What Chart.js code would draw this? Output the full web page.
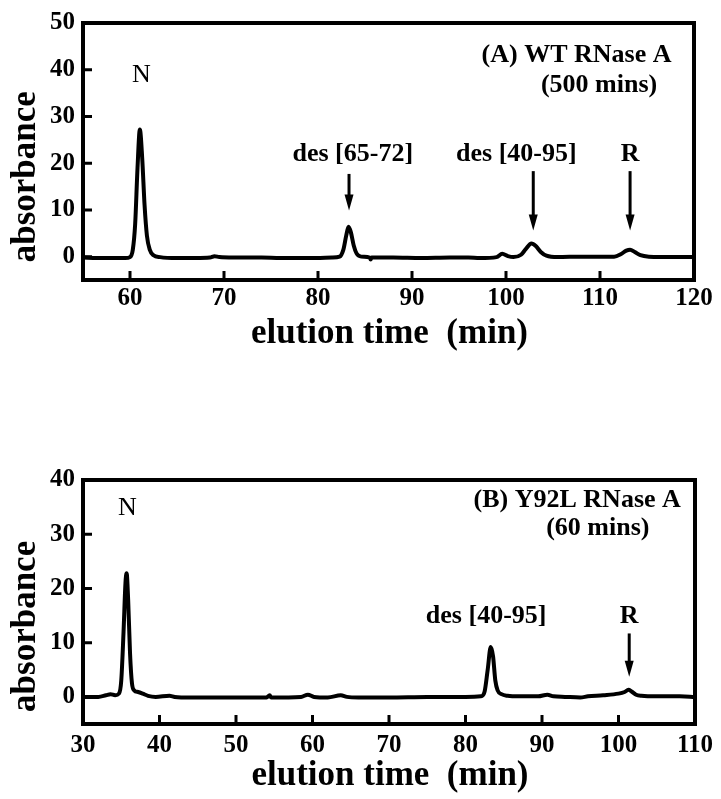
<!DOCTYPE html>
<html>
<head>
<meta charset="utf-8">
<script src="https://cdn.jsdelivr.net/npm/chart.js@4/dist/chart.umd.min.js"></script>
<style>
  body { margin: 0; background: #fff; }
  #wrapA { position: absolute; left: 0; top: 0; width: 721px; height: 400px; }
  #wrapB { position: absolute; left: 0; top: 400px; width: 721px; height: 399px; }
</style>
</head>
<body>
<div id="wrapA"><canvas id="chartA" width="721" height="400"></canvas></div>
<div id="wrapB"><canvas id="chartB" width="721" height="399"></canvas></div>
<script>
// (A) WT RNase A, 500 mins -- elution time (min) vs absorbance
const timeA = [55, 56.5, 58, 59.5, 60, 60.3, 60.55, 60.8, 61.05, 61.3, 61.55, 61.8, 62.1, 62.5, 63.2,
  65, 67, 68.5, 69, 69.5, 71, 74, 76, 79, 81.5, 82.3, 82.7, 83, 83.25, 83.5, 83.8, 84.1, 84.6,
  85.5, 85.6, 85.7, 88, 91, 94, 96, 97.2, 99, 99.6, 100.2, 100.8, 101.6, 102.1, 102.7, 103.2,
  103.7, 104.3, 105.5, 108, 110, 111.5, 112.2, 112.8, 113.2, 113.7, 114.3, 115.2, 118, 120];
const absA = [-0.2, -0.3, -0.3, -0.3, -0.1, 1.5, 7, 19, 27.2, 21, 11, 4.5, 1.5, 0.3, -0.1,
  -0.3, -0.3, -0.2, 0.1, -0.1, -0.2, -0.2, -0.3, -0.3, -0.2, 0, 1.5, 4.5, 6.4, 5.2, 2.4, 0.7, 0,
  -0.2, -0.6, -0.2, -0.2, -0.3, -0.2, -0.2, -0.3, -0.1, 0.6, 0.1, -0.1, 0.4, 1.6, 2.8, 2.2,
  1.0, 0.2, -0.1, 0, 0, 0, 0.5, 1.3, 1.5, 1.0, 0.3, 0, -0.1, -0.1];

// (B) Y92L RNase A, 60 mins
const timeB = [30, 32, 33, 33.6, 34.2, 34.7, 35, 35.3, 35.55, 35.7, 35.9, 36.15, 36.4, 36.7, 37.2,
  37.8, 38.5, 39.5, 41.3, 42, 44, 45, 50, 54, 54.4, 54.6, 58.5, 59.4, 60.2, 62, 63.7, 64.5, 66,
  70, 75, 80, 82, 82.5, 82.9, 83.3, 83.6, 83.9, 84.2, 84.7, 85.5, 87, 89.5, 90.7, 91.5, 93, 95,
  96, 98, 100, 100.8, 101.3, 101.7, 102.3, 103, 105, 108, 110];
const absB = [0, 0, 0.3, 0.5, 0.3, 0.6, 3, 12, 21, 22.8, 18, 8, 2.5, 1.2, 0.9,
  0.6, 0.2, 0, 0.2, 0, -0.1, -0.1, -0.1, -0.1, 0.3, -0.1, 0, 0.4, 0, -0.1, 0.3, 0, -0.1,
  -0.1, 0, 0, 0.1, 1.0, 5.0, 9.2, 7.5, 3.0, 1.2, 0.5, 0.2, 0.1, 0.1, 0.4, 0.1, 0, -0.1,
  0.1, 0.3, 0.6, 0.9, 1.3, 1.0, 0.4, 0.2, 0.1, 0.1, 0];

const xRangeA = [55, 120];
const yRangeA = [-5, 50];
const xTicksA = [60, 70, 80, 90, 100, 110, 120];
const yTicksA = [0, 10, 20, 30, 40, 50];

const xRangeB = [30, 110];
const yRangeB = [-5, 40];
const xTicksB = [30, 40, 50, 60, 70, 80, 90, 100, 110];
const yTicksB = [0, 10, 20, 30, 40];

const notesA = [
  { text: 'N', x: 61.2, y: 37.4, bold: false },
  { text: '(A) WT RNase A', x: 107.5, y: 41.6 },
  { text: '(500 mins)', x: 109.9, y: 35.3 },
  { text: 'des [65-72]', x: 83.7, y: 20.4 },
  { text: 'des [40-95]', x: 101.1, y: 20.4 },
  { text: 'R', x: 113.2, y: 20.4 }
];
const arrowsA = [
  { x: 83.3, from: 17.7, to: 9.9 },
  { x: 102.9, from: 18.3, to: 5.6 },
  { x: 113.2, from: 18.3, to: 5.6 }
];
const notesB = [
  { text: 'N', x: 35.8, y: 33.5, bold: false },
  { text: '(B) Y92L RNase A', x: 94.6, y: 35.0 },
  { text: '(60 mins)', x: 97.3, y: 29.8 },
  { text: 'des [40-95]', x: 82.7, y: 13.6 },
  { text: 'R', x: 101.4, y: 13.6 }
];
const arrowsB = [
  { x: 101.4, from: 11.7, to: 3.7 }
];

const FONT = '"Liberation Serif", "Times New Roman", serif';

const boxAndNotes = {
  id: 'boxAndNotes',
  afterDatasetsDraw(chart, args, opts) {
    const ctx = chart.ctx;
    const a = chart.chartArea;
    const xs = chart.scales.x, ys = chart.scales.y;
    ctx.save();
    ctx.strokeStyle = '#000';
    ctx.fillStyle = '#000';

    // inward tick marks
    ctx.lineWidth = 3;
    ctx.beginPath();
    xs.ticks.forEach(t => {
      const px = xs.getPixelForValue(t.value);
      ctx.moveTo(px, a.bottom);
      ctx.lineTo(px, a.bottom - 9);
    });
    ys.ticks.forEach(t => {
      const py = ys.getPixelForValue(t.value);
      ctx.moveTo(a.left, py);
      ctx.lineTo(a.left + 9, py);
    });
    ctx.stroke();

    ctx.lineWidth = 4;
    ctx.strokeRect(a.left, a.top, a.right - a.left, a.bottom - a.top);

    ctx.textAlign = 'center';
    ctx.textBaseline = 'alphabetic';
    opts.notes.forEach(n => {
      ctx.font = (n.bold === false ? '' : 'bold ') + '26px ' + FONT;
      ctx.fillText(n.text, xs.getPixelForValue(n.x), ys.getPixelForValue(n.y));
    });

    opts.arrows.forEach(ar => {
      const px = xs.getPixelForValue(ar.x);
      const y1 = ys.getPixelForValue(ar.from);
      const y2 = ys.getPixelForValue(ar.to);
      ctx.lineWidth = 3;
      ctx.beginPath();
      ctx.moveTo(px, y1);
      ctx.lineTo(px, y2 - 12);
      ctx.stroke();
      ctx.beginPath();
      ctx.moveTo(px - 4.5, y2 - 16);
      ctx.lineTo(px + 4.5, y2 - 16);
      ctx.lineTo(px, y2);
      ctx.closePath();
      ctx.fill();
    });

    // axis titles
    ctx.font = 'bold 35px ' + FONT;
    ctx.fillText('elution time  (min)', (a.left + a.right) / 2 + 1, a.bottom + opts.xTitleGap);
    ctx.save();
    ctx.translate(35, ys.getPixelForValue(opts.yTitleAt));
    ctx.rotate(-Math.PI / 2);
    ctx.fillText('absorbance', 0, 0);
    ctx.restore();
    ctx.restore();
  }
};

function makeChart(id, times, values, xRange, yRange, xTicks, yTicks, notes, arrows, pad, xHeight, xPad, xTitleGap, yTitleAt) {
  const points = times.map((t, i) => ({ x: t, y: values[i] }));
  const tickFont = { family: FONT, size: 25, weight: 'bold' };
  return new Chart(document.getElementById(id), {
    type: 'line',
    data: {
      datasets: [{
        data: points,
        borderColor: '#000',
        borderWidth: 4,
        pointRadius: 0,
        cubicInterpolationMode: 'monotone',
        fill: false
      }]
    },
    options: {
      responsive: false,
      animation: false,
      devicePixelRatio: 1,
      layout: { padding: pad },
      plugins: {
        legend: { display: false },
        tooltip: { enabled: false },
        boxAndNotes: { notes: notes, arrows: arrows, xTitleGap: xTitleGap, yTitleAt: yTitleAt }
      },
      scales: {
        x: {
          type: 'linear',
          min: xRange[0], max: xRange[1],
          border: { display: false },
          grid: { display: false, drawTicks: false },
          ticks: { color: '#000', font: tickFont, padding: xPad, maxRotation: 0 },
          afterBuildTicks: s => { s.ticks = xTicks.map(v => ({ value: v })); },
          afterFit: s => { s.height = xHeight; }
        },
        y: {
          min: yRange[0], max: yRange[1],
          border: { display: false },
          grid: { display: false, drawTicks: false },
          ticks: { color: '#000', font: tickFont, padding: 8 },
          afterBuildTicks: s => { s.ticks = yTicks.map(v => ({ value: v })); },
          afterFit: s => { s.width = 83; }
        }
      }
    },
    plugins: [boxAndNotes]
  });
}

makeChart('chartA', timeA, absA, xRangeA, yRangeA, xTicksA, yTicksA, notesA, arrowsA,
  { top: 20, right: 27, bottom: 0, left: 0 }, 120, 4, 63, 17.1);
makeChart('chartB', timeB, absB, xRangeB, yRangeB, xTicksB, yTicksB, notesB, arrowsB,
  { top: 80, right: 26, bottom: 0, left: 0 }, 75, 7, 61, 13.0);
</script>
</body>
</html>
